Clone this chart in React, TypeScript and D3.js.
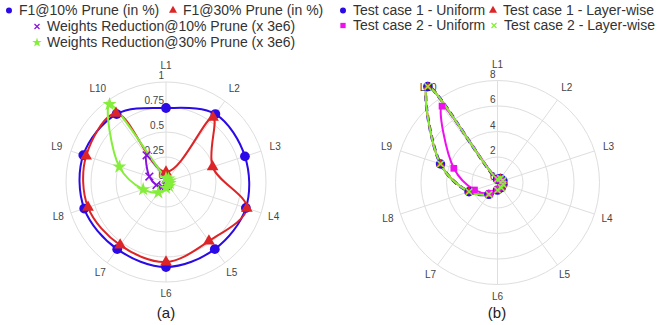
import React from "react";
import * as d3 from "d3";

// category axis shared by both panels
const LAYERS = ["L1", "L2", "L3", "L4", "L5", "L6", "L7", "L8", "L9", "L10"];

// panel (a)
const F1_10 = [0.74, 0.84, 0.83, 0.84, 0.83, 0.85, 0.83, 0.86, 0.87, 0.84];
const F1_30 = [0.1, 0.8, 0.49, 0.85, 0.73, 0.8, 0.78, 0.82, 0.84, 0.85];
const WR_10 = [0.03, 0.02, 0.02, 0.02, 0.03, 0.04, 0.06, 0.1, 0.175, 0.33];
const WR_30 = [0.04, 0.04, 0.04, 0.04, 0.05, 0.06, 0.13, 0.24, 0.49, 0.96];
const TICKS_A = [0, 0.25, 0.5, 0.75, 1];

// panel (b)
const TC1_UNIFORM = [0.25, 0.4, 0.45, 0.45, 0.5, 0.6, 1.15, 2.35, 4.7, 9.3];
const TC1_LAYER = [0.25, 0.4, 0.45, 0.45, 0.5, 0.6, 1.15, 2.35, 4.7, 9.3];
const TC2_UNIFORM = [0.25, 0.35, 0.4, 0.4, 0.45, 0.55, 1.05, 1.9, 3.6, 7.4];
const TC2_LAYER = [0.25, 0.4, 0.45, 0.45, 0.5, 0.6, 1.15, 2.35, 4.7, 9.3];
const TICKS_B = [0, 2, 4, 6, 8];

const BLUE = "#2a0ae6";
const RED = "#dd2426";
const PURPLE = "#8a10e0";
const GREEN = "#84ee3a";
const MAGENTA = "#ee10ee";

const FONT = "'Liberation Sans', Arial, sans-serif";

type Series = {
  name: string;
  values: number[];
  color: string;
  symbol: d3.SymbolType;
  size: number;
  strokeSymbol?: boolean;
  dash?: string;
  width?: number;
};

const seriesA: Series[] = [
  { name: "F1@10% Prune (in %)", values: F1_10, color: BLUE, symbol: d3.symbolCircle, size: 75 },
  { name: "F1@30% Prune (in %)", values: F1_30, color: RED, symbol: d3.symbolTriangle, size: 60 },
  { name: "Weights Reduction@10% Prune (x 3e6)", values: WR_10, color: PURPLE, symbol: d3.symbolX, size: 40, strokeSymbol: true },
  { name: "Weights Reduction@30% Prune (x 3e6)", values: WR_30, color: GREEN, symbol: d3.symbolStar, size: 60 },
];

const seriesB: Series[] = [
  { name: "Test case 1 - Uniform", values: TC1_UNIFORM, color: BLUE, symbol: d3.symbolCircle, size: 70, dash: "6,4", width: 3 },
  { name: "Test case 1 - Layer-wise", values: TC1_LAYER, color: RED, symbol: d3.symbolTriangle, size: 35 },
  { name: "Test case 2 - Uniform", values: TC2_UNIFORM, color: MAGENTA, symbol: d3.symbolSquare, size: 45 },
  { name: "Test case 2 - Layer-wise", values: TC2_LAYER, color: GREEN, symbol: d3.symbolX, size: 30, strokeSymbol: true },
];

const Polar = ({ cx, cy, R, ticks, series }: {
  cx: number; cy: number; R: number; ticks: number[]; series: Series[];
}) => {
  const angle = d3.scaleBand().domain(LAYERS).range([0, 2 * Math.PI]);
  const r = d3.scaleLinear().domain([0, ticks[ticks.length - 1]]).range([0, R]);
  const pt = (a: number, rad: number) => [rad * Math.sin(a), -rad * Math.cos(a)];

  const line = d3
    .lineRadial<number>()
    .angle((_, i) => angle(LAYERS[i])!)
    .radius((d) => r(d))
    .curve(d3.curveCatmullRomClosed.alpha(0.5));

  return (
    <g transform={`translate(${cx},${cy})`}>
      {ticks.filter((t) => t > 0).map((t) => (
        <circle key={t} r={r(t)} fill="none" stroke="#dedede" strokeWidth={1} />
      ))}
      {LAYERS.map((l) => {
        const a = angle(l)!;
        const [x, y] = pt(a, R);
        const [lx, ly] = pt(a, R + 14 + 2.5 * Math.cos(a));
        return (
          <g key={l}>
            <line x1={0} y1={0} x2={x} y2={y} stroke="#dedede" strokeWidth={1} />
            <text x={lx} y={ly} dy="0.35em" textAnchor="middle" fontSize={10} fill="#444" fontFamily={FONT}>{l}</text>
          </g>
        );
      })}
      {ticks.map((t) => (
        <text key={t} x={-2} y={-r(t) - 3} textAnchor="end" fontSize={10} fill="#444" fontFamily={FONT}>{String(t)}</text>
      ))}
      {series.map((s) => (
        <path key={s.name} d={line(s.values) || ""} fill="none" stroke={s.color}
          strokeWidth={s.width ?? 2} strokeDasharray={s.dash} />
      ))}
      {series.map((s) => (
        <g key={s.name + "m"}>
          {s.values.map((v, i) => {
            const [x, y] = pt(angle(LAYERS[i])!, r(v));
            return (
              <path key={i} transform={`translate(${x},${y})`}
                d={d3.symbol(s.symbol, s.size)() || ""}
                fill={s.strokeSymbol ? "none" : s.color}
                stroke={s.strokeSymbol ? s.color : "none"} strokeWidth={1.6} />
            );
          })}
        </g>
      ))}
    </g>
  );
};

// legend entry anchors: [markerX, baselineY]
const LEGEND_A = [[9, 15], [173, 15], [37, 31], [37, 47]];
const LEGEND_B = [[343, 15], [493, 15], [343, 30], [494, 30]];

const Legend = ({ series, pos }: { series: Series[]; pos: number[][] }) => (
  <g>
    {series.map((s, i) => {
      const [x, y] = pos[i];
      return (
        <g key={s.name}>
          <path transform={`translate(${x},${y - 4.5})`} d={d3.symbol(s.symbol, s.strokeSymbol ? 18 : 28)() || ""}
            fill={s.strokeSymbol ? "none" : s.color} stroke={s.strokeSymbol ? s.color : "none"} strokeWidth={1.2} />
          <text x={x + 10} y={y} fontSize={14} fill="#333" fontFamily={FONT}>{s.name}</text>
        </g>
      );
    })}
  </g>
);

export default function App() {
  return (
    <svg width={664} height={325} style={{ position: "absolute", left: 0, top: 0, background: "#fff" }}>
      <Polar cx={166} cy={182} R={100} ticks={TICKS_A} series={seriesA} />
      <Polar cx={497.5} cy={182.5} R={102} ticks={TICKS_B} series={seriesB} />
      <Legend series={seriesA} pos={LEGEND_A} />
      <Legend series={seriesB} pos={LEGEND_B} />
      <text x={166} y={318} textAnchor="middle" fontSize={15} fill="#222" fontFamily={FONT}>(a)</text>
      <text x={497} y={318} textAnchor="middle" fontSize={15} fill="#222" fontFamily={FONT}>(b)</text>
    </svg>
  );
}
